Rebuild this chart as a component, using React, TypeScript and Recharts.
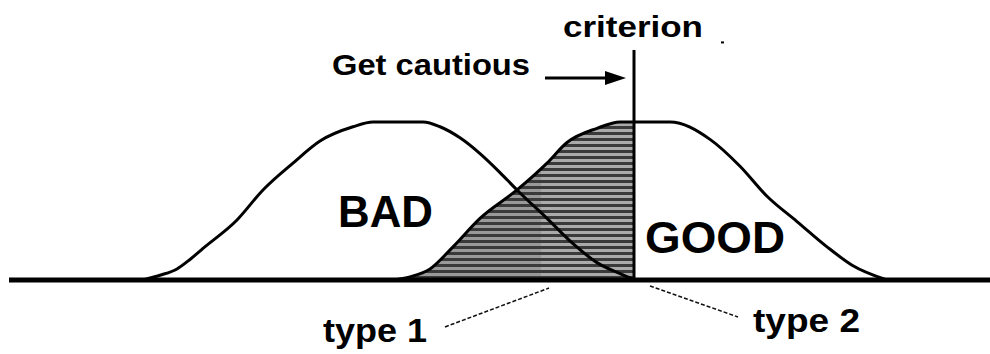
import React from "react";
import { ComposedChart, Line, Area, XAxis, YAxis, ReferenceLine, ReferenceDot } from "recharts";

// score axis (arbitrary units), density (peak = 1)
const badScores = [13.4, 15.1, 16.8, 18.1, 19.4, 22.8, 25.4, 28.4, 31.1, 34.4, 36.4, 41.4, 43.1, 45.1, 47.1, 49.1, 50.8, 53.8, 56.4, 58.8, 61.1, 62.6];
const badDensity = [0, 0.03, 0.07, 0.13, 0.2, 0.38, 0.57, 0.74, 0.88, 0.97, 1.0, 1.0, 0.97, 0.9, 0.8, 0.68, 0.57, 0.39, 0.23, 0.11, 0.04, 0];

const goodScores = [38.4, 40.1, 42.1, 44.4, 47.1, 50.8, 53.8, 55.8, 58.8, 61.1, 62.5, 66.1, 70.1, 73.1, 75.8, 78.8, 81.8, 84.4, 87.8];
const goodDensity = [0, 0.02, 0.07, 0.21, 0.39, 0.57, 0.74, 0.87, 0.96, 1.0, 1.0, 1.0, 0.89, 0.72, 0.53, 0.37, 0.21, 0.09, 0];

const criterion = 62.5;

const labels = {
  criterion: "criterion",
  cautious: "Get cautious",
  bad: "BAD",
  good: "GOOD",
  type1: "type 1",
  type2: "type 2",
};

const badData = badScores.map((x, i) => ({ x, bad: badDensity[i] }));
const goodData = goodScores.map((x, i) => ({ x, good: goodDensity[i] }));
const shadedData = goodData.filter((d) => d.x <= criterion);

const FONT = "'Liberation Sans', Arial, Helvetica, sans-serif";

const textShape = (text: string, size: number, width: number, weight = "bold") => (p: any) => (
  <text
    x={p.cx}
    y={p.cy}
    fontFamily={FONT}
    fontWeight={weight}
    fontSize={size}
    textLength={width}
    lengthAdjust="spacingAndGlyphs"
    fill="#000"
  >
    {text}
  </text>
);

const arrowHead = (p: any) => (
  <polygon
    points={`${p.cx},${p.cy} ${p.cx - 21},${p.cy - 7} ${p.cx - 21},${p.cy + 7}`}
    fill="#000"
  />
);

const dotShape = (p: any) => <rect x={p.cx} y={p.cy} width={3} height={2} fill="#000" />;

export default function App() {
  return (
    <div style={{ position: "absolute", left: 0, top: 0, width: 990, height: 354, background: "#fff" }}>
      <ComposedChart width={990} height={354} margin={{ top: 43, right: 0, bottom: 74, left: 9 }}>
        <defs>
          <pattern id="stripes" patternUnits="userSpaceOnUse" x={0} y={0} width={990} height={6}>
            <rect x={0} y={0} width={990} height={3} fill="#3a3a3a" />
            <rect x={0} y={3} width={541} height={3} fill="#999999" />
            <rect x={541} y={3} width={449} height={3} fill="#aaaaaa" />
          </pattern>
        </defs>
        <XAxis type="number" dataKey="x" hide domain={[0, 98.1]} allowDataOverflow />
        <YAxis type="number" hide domain={[0, 1.5]} allowDataOverflow />
        <Area
          data={shadedData}
          dataKey="good"
          type="monotone"
          stroke="none"
          fill="url(#stripes)"
          fillOpacity={1}
          isAnimationActive={false}
          dot={false}
          activeDot={false}
        />
        <Line
          data={badData}
          dataKey="bad"
          type="monotone"
          stroke="#000"
          strokeWidth={3}
          dot={false}
          activeDot={false}
          isAnimationActive={false}
        />
        <Line
          data={goodData}
          dataKey="good"
          type="monotone"
          stroke="#000"
          strokeWidth={3}
          dot={false}
          activeDot={false}
          isAnimationActive={false}
        />
        <ReferenceLine y={0} stroke="#000" strokeWidth={5} ifOverflow="visible" />
        <ReferenceLine
          segment={[{ x: criterion, y: 0 }, { x: criterion, y: 1.456 }]}
          stroke="#000"
          strokeWidth={3}
          ifOverflow="visible"
        />
        <ReferenceLine
          segment={[{ x: 53.6, y: 1.278 }, { x: 60.0, y: 1.278 }]}
          stroke="#000"
          strokeWidth={3}
          ifOverflow="visible"
        />
        <ReferenceDot x={61.7} y={1.278} r={1} ifOverflow="visible" shape={arrowHead} />
        <ReferenceLine
          segment={[{ x: 43.6, y: -0.297 }, { x: 54.0, y: -0.051 }]}
          stroke="#111"
          strokeWidth={1.5}
          strokeDasharray="4 2"
          ifOverflow="visible"
        />
        <ReferenceLine
          segment={[{ x: 64.1, y: -0.038 }, { x: 72.9, y: -0.234 }]}
          stroke="#111"
          strokeWidth={1.5}
          strokeDasharray="4 2"
          ifOverflow="visible"
        />
        <ReferenceDot x={55.4} y={1.538} r={1} ifOverflow="visible" shape={textShape(labels.criterion, 30, 140)} />
        <ReferenceDot x={71.2} y={1.51} r={1} ifOverflow="visible" shape={dotShape} />
        <ReferenceDot x={32.3} y={1.297} r={1} ifOverflow="visible" shape={textShape(labels.cautious, 30, 198)} />
        <ReferenceDot x={32.9} y={0.335} r={1} ifOverflow="visible" shape={textShape(labels.bad, 44, 95)} />
        <ReferenceDot x={63.6} y={0.171} r={1} ifOverflow="visible" shape={textShape(labels.good, 44, 140)} />
        <ReferenceDot x={31.4} y={-0.392} r={1} ifOverflow="visible" shape={textShape(labels.type1, 34, 104)} />
        <ReferenceDot x={74.4} y={-0.329} r={1} ifOverflow="visible" shape={textShape(labels.type2, 34, 107)} />
      </ComposedChart>
    </div>
  );
}
